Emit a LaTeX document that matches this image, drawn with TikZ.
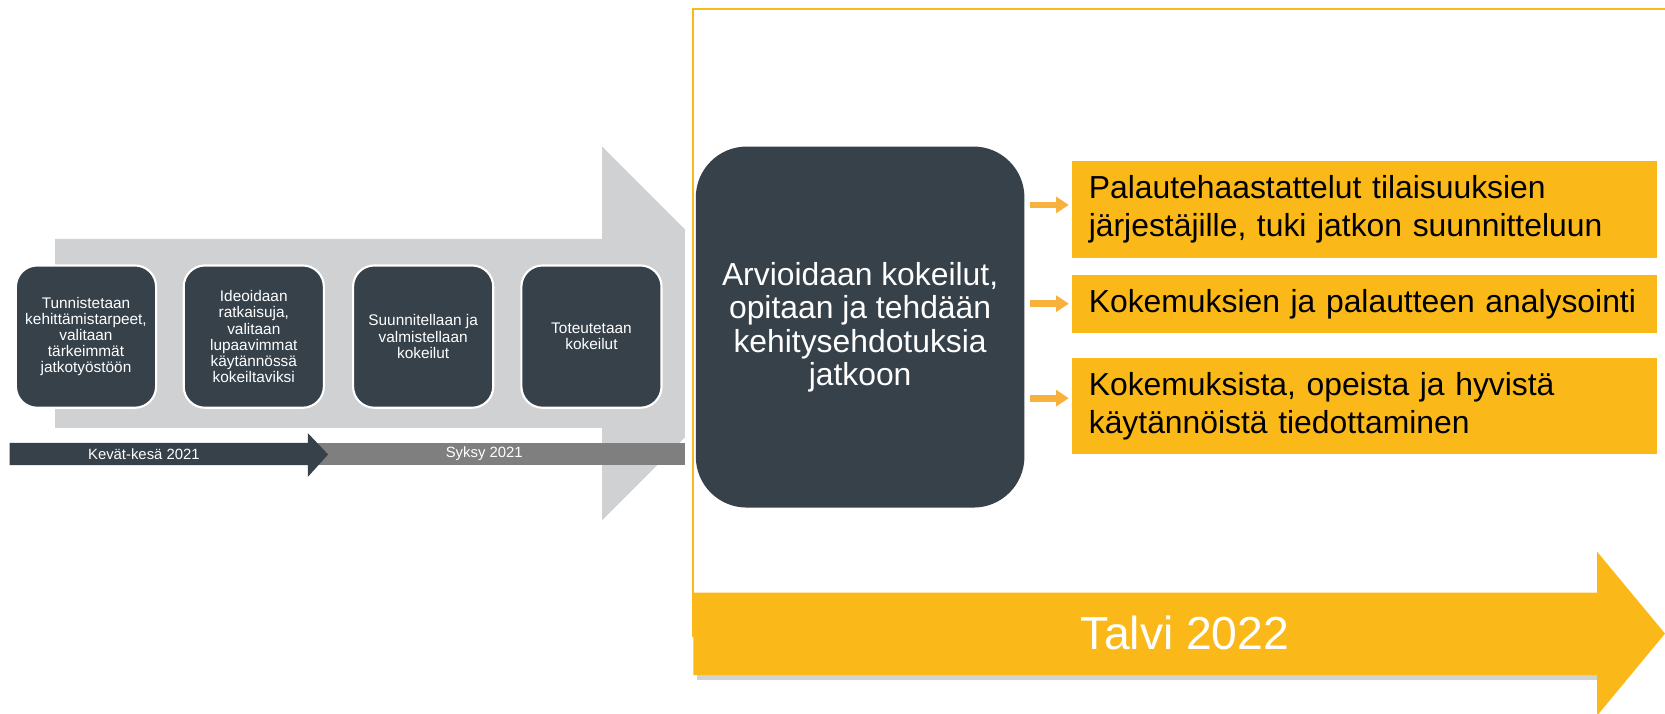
\documentclass[tikz,border=0pt]{standalone}
\usepackage{fontspec}
\setmainfont{Liberation Sans}
\usetikzlibrary{arrows.meta,calc}
\definecolor{lgray}{RGB}{208,209,211}
\definecolor{darkslate}{RGB}{54,65,74}
\definecolor{tgray}{RGB}{127,127,127}
\definecolor{ybright}{RGB}{251,185,25}
\definecolor{oarrow}{RGB}{247,177,60}
\begin{document}
\begin{tikzpicture}[x=0.5pt,y=-0.5pt,
  smallbox/.style={rounded corners=10pt, fill=darkslate, draw=white, line width=1pt,
    minimum width=66pt, minimum height=67pt, text=white, align=center, inner sep=1pt,
    font=\fontsize{7.25pt}{7.6pt}\selectfont},
  bigbox/.style={rounded corners=24pt, fill=darkslate, text=white, align=center,
    minimum width=154.75pt, minimum height=170pt,
    font=\fontsize{15pt}{15.75pt}\selectfont},
  ybox/.style={fill=ybright, text=black, text width=260pt, inner xsep=7.75pt, inner ysep=0pt,
    align=left, anchor=west, font=\fontsize{15pt}{18pt}\selectfont},
  tlabel/.style={text=white, font=\fontsize{7pt}{8pt}\selectfont, inner sep=0pt},
  orarr/.style={draw=oarrow, line width=3.15pt, shorten <=2.5pt, shorten >=1.5pt,
    -{Triangle[length=6pt,width=7.5pt]}}
]
\useasboundingbox (0,0) rectangle (1568,672);
\clip (0,0) rectangle (1568,672);

% big gray arrow, cut at x=645
\begin{scope}
  \clip (0,0) rectangle (645,672);
  \fill[lgray] (52,225) -- (567,225) -- (567,138) -- (743,314) -- (567,490) -- (567,403) -- (52,403) -- cycle;
  \fill[tgray] (290,417) rectangle (645,438);
\end{scope}

% timeline dark arrow
\fill[darkslate] (9,417) -- (290,417) -- (290,408) -- (309,428) -- (290,449) -- (290,438) -- (9,438) -- cycle;
\node[tlabel] (kk) at (135.5,427.5) {Kevät-kesä 2021};
\node[tlabel] (sy) at (456,427.5) {Syksy 2021};

% four step boxes
\node[smallbox] (b1) at (81,317) {Tunnistetaan\\kehittämistarpeet,\\valitaan\\tärkeimmät\\jatkotyöstöön};
\node[smallbox] (b2) at (239,317) {Ideoidaan\\ratkaisuja,\\valitaan\\lupaavimmat\\käytännössä\\kokeiltaviksi};
\node[smallbox] (b3) at (398.5,317) {Suunnitellaan ja\\valmistellaan\\kokeilut};
\node[smallbox] (b4) at (557,317) {Toteutetaan\\kokeilut};

% yellow frame
\draw[ybright, line width=1pt] (1568,8.5) -- (653,8.5) -- (653,600);

% Talvi arrow
\fill[black!35, opacity=0.5] (656,562) -- (1504,562) -- (1504,640) -- (656,640) -- cycle;
\fill[ybright] (653,558) -- (1504,558) -- (1504,519.5) -- (1568,596.7) -- (1504,674) -- (1504,635.7) -- (653,635.7) -- cycle;
\node[text=white, font=\fontsize{21.8pt}{24pt}\selectfont, inner sep=0pt] (talvi) at (1116,596) {Talvi 2022};

% big dark box
\node[bigbox] (dk) at (810,308) {Arvioidaan kokeilut,\\opitaan ja tehdään\\kehitysehdotuksia\\jatkoon};

% yellow boxes
\node[ybox, minimum height=45.5pt] (ya) at (1009.5,197.2) {Palautehaastattelut tilaisuuksien\\järjestäjille, tuki jatkon suunnitteluun};
\node[ybox, minimum height=27.5pt] (yb) at (1009.5,286.5) {Kokemuksien ja palautteen analysointi};
\node[ybox, minimum height=45.2pt] (yc) at (1009.5,382.6) {Kokemuksista, opeista ja hyvistä\\käytännöistä tiedottaminen};

% connectors
\coordinate (a1) at (970,193);
\coordinate (a2) at (970,286);
\coordinate (a3) at (970,375);
\draw[orarr] (dk.east |- a1) -- (ya.west |- a1);
\draw[orarr] (dk.east |- a2) -- (yb.west |- a2);
\draw[orarr] (dk.east |- a3) -- (yc.west |- a3);
\end{tikzpicture}
\end{document}
